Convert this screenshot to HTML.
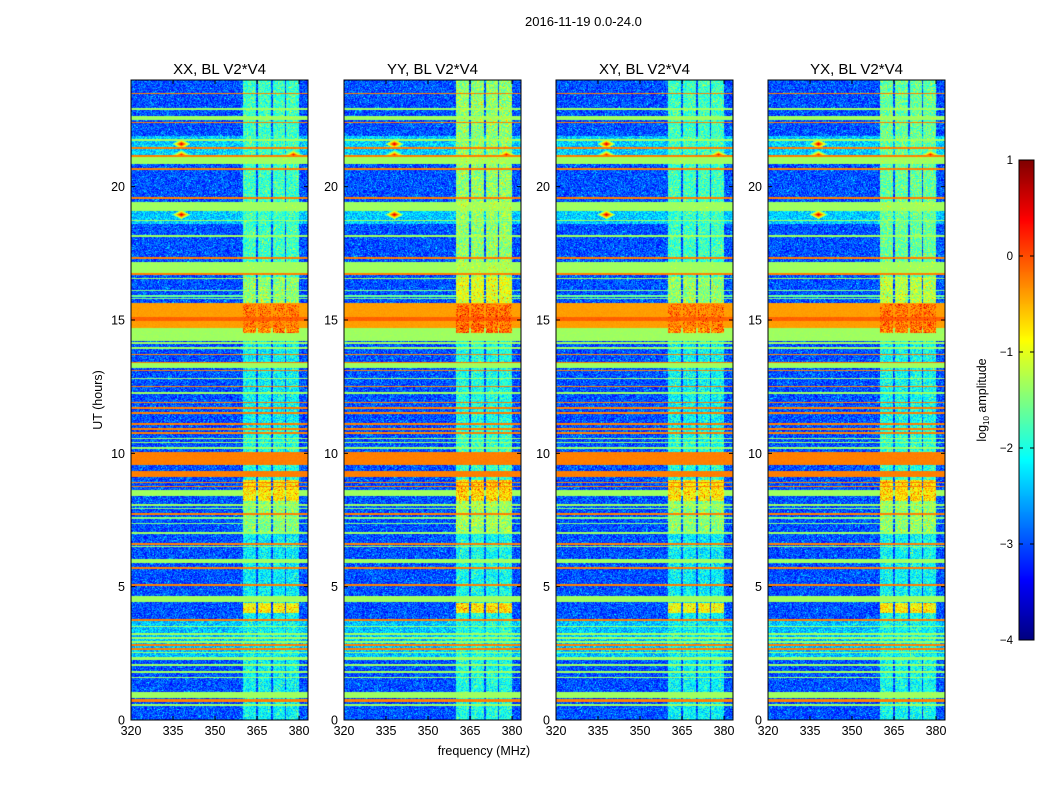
<!DOCTYPE html>
<html><head><meta charset="utf-8">
<style>
body{margin:0;background:#fff;font-family:"Liberation Sans",sans-serif;}
#root{position:relative;width:1050px;height:800px;overflow:hidden;background:#fff;}
.t{position:absolute;font-size:13px;color:#000;white-space:nowrap;}
canvas{position:absolute;}
</style></head><body>
<div id="root">
<div class="t" style="left:525px;top:14px;">2016-11-19 0.0-24.0</div>
<svg id="ov" width="1050" height="800" style="position:absolute;left:0;top:0"></svg>
</div>
<script>
// ---- data ----
const panels = ["XX, BL V2*V4","YY, BL V2*V4","XY, BL V2*V4","YX, BL V2*V4"];
const panelColBoost = [0, 0.4, 0, 0.2];
const xTicks = [320,335,350,365,380];
const yTicks = [0,5,10,15,20];
const cbTicks = [1,0,-1,-2,-3,-4];
const baseLevel = -3.0;
// horizontal RFI bands (hours)
const bandStart = [23.47,22.88,22.5,22.37,21.72,21.0,21.42,21.12,20.85,20.63,19.54,19.08,18.6,18.7,18.13,17.3,16.75,16.7,16.52,16.08,15.88,15.78,14.7,14.95,14.2,14.11,13.93,13.68,13.2,13.38,13.08,12.78,12.48,12.24,11.88,11.68,11.48,11.08,10.88,10.73,10.53,10.38,10.18,9.55,9.75,9.1,8.88,8.73,8.4,8.04,7.9,7.7,7.55,7.35,6.98,6.58,6.48,5.9,5.68,5.04,4.42,3.73,3.48,2.3,3.2,3.05,2.9,2.78,2.63,2.5,2.25,2.04,1.78,1.56,0.83,0.73,0.66,0.54];
const bandEnd   = [23.53,22.94,22.64,22.43,21.78,21.9,21.47,21.18,21.1,20.69,19.6,19.42,19.1,18.76,18.18,17.36,17.18,16.76,16.57,16.13,15.93,15.83,15.62,15.1,14.7,14.16,13.98,13.74,13.4,13.44,13.14,12.84,12.54,12.3,11.94,11.74,11.54,11.14,10.94,10.79,10.58,10.43,10.24,10.06,9.8,9.35,8.94,8.79,8.62,8.1,7.95,7.76,7.6,7.4,7.04,6.64,6.53,6.05,5.74,5.1,4.66,3.79,3.54,3.75,3.25,3.1,2.95,2.84,2.69,2.55,2.38,2.09,1.84,1.62,1.06,0.78,0.71,0.59];
const bandLevel = [-0.25,-1.35,-1.35,-0.25,-1.35,-2.4,-0.25,-0.25,-1.35,-0.25,-0.25,-1.35,-2.4,-1.35,-1.35,-0.25,-1.35,-0.25,-1.35,-1.5,-1.6,-1.5,-0.4,-0.1,-1.35,-1.35,-1.35,-0.25,-1.35,-0.25,-0.25,-1.35,-0.25,-1.35,-0.25,-0.25,-0.25,-0.25,-0.25,-0.25,-1.35,-1.35,-1.35,-0.25,-1.35,-0.25,-0.25,-0.25,-1.35,-1.35,-1.5,-0.25,-1.5,-1.5,-1.35,-0.25,-1.35,-1.35,-0.25,-0.25,-1.35,-0.25,-1.35,-2.45,-1.35,-1.35,-1.35,-0.25,-0.25,-1.35,-1.35,-1.35,-1.35,-1.35,-1.35,-0.25,-0.25,-1.35];
// bright vertical channel blocks (MHz)
const colStart = [360,365.2,370.6,375.5];
const colEnd   = [364.7,370.1,375.1,380];
// time segments for column brightness
const segStart = [0,4.0,4.4,7.0,8.2,9.0,11.0,14.5,15.6,16.6];
const segEnd   = [4.0,4.4,7.0,8.2,9.0,11.0,14.5,15.6,16.6,24.0];
const segLevel = [-2.15,-0.9,-2.2,-1.5,-0.8,-2.0,-2.15,-0.3,-1.45,-1.85];
// point sources
const spotFreq = [338,338,338,378];
const spotHour = [21.6,21.2,18.95,21.2];
const spotLevel = [0.7,0.3,0.7,0.4];

// ---- layout ----
const panelX = [131,344,556,768], PW=177, PT=80, PB=720, PH=640;
const fMin=320, fMax=383.2, hMax=24;
const xScale=(f,i)=>panelX[i]+(f-fMin)/(fMax-fMin)*PW;
const yScale=h=>PB-h/hMax*PH;
const cbX=1019, cbW=15, cbT=160, cbB=640;
const cbScale=v=>cbB-(v+4)/5*(cbB-cbT);

function jet(t){t=Math.max(0,Math.min(1,t));
 const c=x=>Math.round(255*Math.max(0,Math.min(1,x)));
 return [c(1.5-Math.abs(4*t-3)),c(1.5-Math.abs(4*t-2)),c(1.5-Math.abs(4*t-1))];}
function hash(a,b,c){let h=(a*374761393+b*668265263+c*2147483647)|0;h=(h^(h>>>13))*1274126177;h=h^(h>>>16);return ((h>>>0)%10000)/10000;}

const root=document.getElementById('root');
const ov=document.getElementById('ov');
const NS='http://www.w3.org/2000/svg';
function sv(tag,attrs,name){const e=document.createElementNS(NS,tag);for(const k in attrs)e.setAttribute(k,attrs[k]);
 
 
 ov.appendChild(e);return e;}
function txt(x,y,s,anchor,size,name,rot){const e=sv('text',{x:x,y:y,'text-anchor':anchor,'font-size':size,'font-family':'Liberation Sans, sans-serif',fill:'#000'},name);
 if(rot)e.setAttribute('transform','rotate(-90 '+x+' '+y+')');e.textContent=s;return e;}

panels.forEach((title,i)=>{
 const cv=document.createElement('canvas');cv.width=PW;cv.height=PH;
 cv.style.left=panelX[i]+'px';cv.style.top=PT+'px';
 
 
 root.insertBefore(cv,ov);
 const ctx=cv.getContext('2d');const img=ctx.createImageData(PW,PH);
 for(let y=0;y<PH;y++){
  const h=(PB-(PT+y+0.5))/PH*hMax;
  let seg=-9;for(let s=0;s<segStart.length;s++)if(h>=segStart[s]&&h<segEnd[s])seg=segLevel[s]+panelColBoost[i]*(h>15.6?1:0.3);
  for(let x=0;x<PW;x++){
   const f=fMin+(x+0.5)/PW*(fMax-fMin);
   const r1=hash(x,y,i+1), r2=hash(y,x,i+7);
   const n=(r1-0.5)*0.8+(r2>0.93?0.5:0);
   let v=baseLevel+n;
   for(let c=0;c<colStart.length;c++)if(f>=colStart[c]&&f<colEnd[c])v=Math.max(v,seg+n*1.1);
   for(let b=0;b<bandStart.length;b++)if(h>=bandStart[b]&&h<bandEnd[b]){
     const bl=bandLevel[b]<-2?bandLevel[b]+n:bandLevel[b]+n*0.1;v=Math.max(v,bl);}
   for(let s=0;s<spotFreq.length;s++){const dx=(f-spotFreq[s])/2.2,dy=(h-spotHour[s])/0.12;
     const d=Math.abs(dx)+Math.abs(dy);if(d<1.5)v=Math.max(v,spotLevel[s]-d*1.6);}
   const t=(v+4)/5;const [r,g,bb]=jet(t);const k=(y*PW+x)*4;
   img.data[k]=r;img.data[k+1]=g;img.data[k+2]=bb;img.data[k+3]=255;}
 }
 ctx.putImageData(img,0,0);
 sv('rect',{x:panelX[i],y:PT,width:PW,height:PH,fill:'none',stroke:'#000','stroke-width':1},'panel-frame');
 txt(panelX[i]+PW/2,74,title,'middle',15,'panel-title');
 xTicks.forEach(v=>{const x=xScale(v,i);
  sv('line',{x1:x,x2:x,y1:PB,y2:PB-4,stroke:'#000'},'x-tick');
  sv('line',{x1:x,x2:x,y1:PT,y2:PT+4,stroke:'#000'},'x-tick');
  txt(x,735,String(v),'middle',12.5,'x-tick-label');});
 yTicks.forEach(v=>{const y=yScale(v);
  sv('line',{x1:panelX[i],x2:panelX[i]+4,y1:y,y2:y,stroke:'#000'},'y-tick');
  sv('line',{x1:panelX[i]+PW,x2:panelX[i]+PW-4,y1:y,y2:y,stroke:'#000'},'y-tick');
  txt(panelX[i]-6,y+4.5,String(v),'end',12.5,'y-tick-label');});
});
txt(484,755,'frequency (MHz)','middle',12.5,'x-axis-title');
txt(102,400,'UT (hours)','middle',12.5,'y-axis-title',true);
// colorbar
const cb=document.createElement('canvas');cb.width=cbW;cb.height=cbB-cbT;
cb.style.left=cbX+'px';cb.style.top=cbT+'px';


root.insertBefore(cb,ov);
const cctx=cb.getContext('2d');
for(let y=0;y<cbB-cbT;y++){const [r,g,b]=jet(1-(y+0.5)/(cbB-cbT));cctx.fillStyle=`rgb(${r},${g},${b})`;cctx.fillRect(0,y,cbW,1);}
sv('rect',{x:cbX,y:cbT,width:cbW,height:cbB-cbT,fill:'none',stroke:'#000'},'colorbar-frame');
cbTicks.forEach(v=>{const y=cbScale(v);
 sv('line',{x1:cbX,x2:cbX+4,y1:y,y2:y,stroke:'#000'},'colorbar-tick');
 sv('line',{x1:cbX+cbW,x2:cbX+cbW-4,y1:y,y2:y,stroke:'#000'},'colorbar-tick');
 txt(cbX-6,y+4,(v<0?'\u2212':'')+Math.abs(v),'end',11.5,'colorbar-tick-label');});
const lab=txt(986,400,'','middle',12.5,'colorbar-label',true);
lab.innerHTML='log<tspan font-size="8" dy="3">10</tspan><tspan dy="-3"> amplitude</tspan>';
</script>
</body></html>
